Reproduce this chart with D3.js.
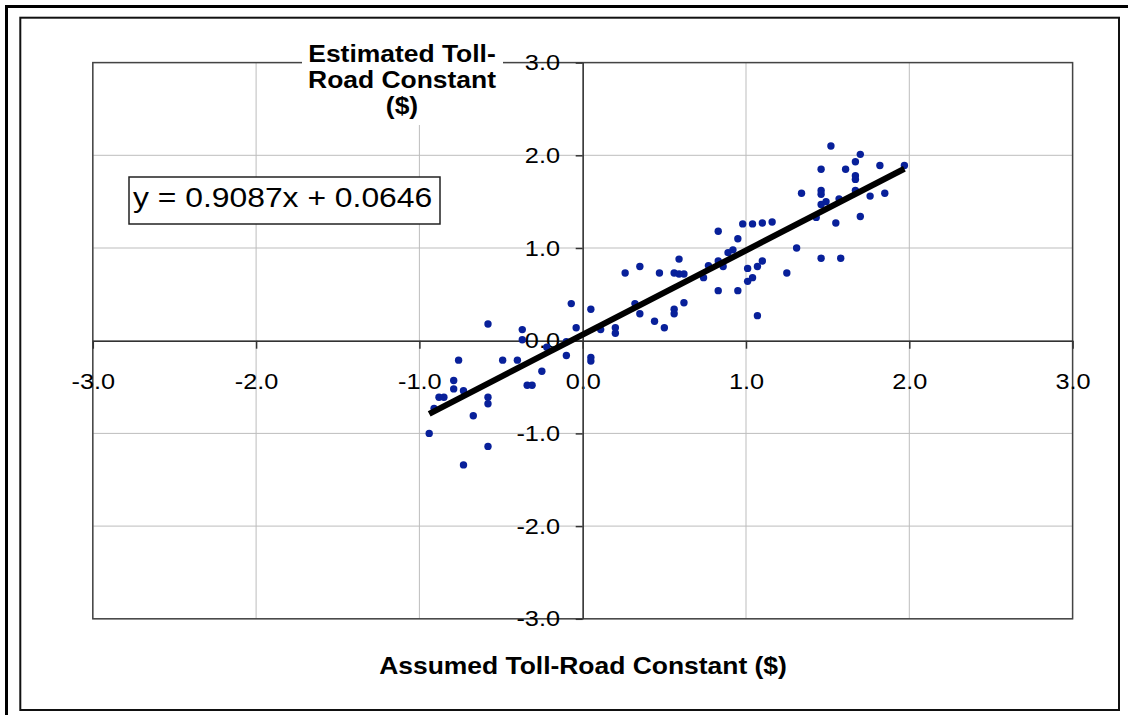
<!DOCTYPE html>
<html>
<head>
<meta charset="utf-8">
<script src="https://cdn.jsdelivr.net/npm/d3@7"></script>
<style>
body { margin: 0; background: #fff; }
svg text { font-family: "Liberation Sans", Arial, sans-serif; fill: #000; }
</style>
</head>
<body>
<svg id="chart" width="1128" height="715"></svg>
<script>
'use strict';

// assumed (x) and estimated (y) toll-road constants
var assumed = [-0.94, -0.91, -0.88, -0.85, -0.79, -0.79, -0.76, -0.73, -0.73, -0.67,
    -0.58, -0.58, -0.58, -0.58, -0.49, -0.40, -0.37, -0.37, -0.34, -0.31,
    -0.25, -0.22, -0.10, -0.10, -0.07, -0.04, 0.05, 0.05, 0.05, 0.11,
    0.20, 0.20, 0.26, 0.32, 0.35, 0.35, 0.44, 0.47, 0.50, 0.56,
    0.56, 0.56, 0.59, 0.59, 0.62, 0.62, 0.74, 0.77, 0.83, 0.83,
    0.83, 0.86, 0.89, 0.92, 0.95, 0.95, 0.98, 1.01, 1.01, 1.04,
    1.04, 1.07, 1.07, 1.10, 1.10, 1.16, 1.25, 1.31, 1.34, 1.43,
    1.46, 1.46, 1.46, 1.46, 1.46, 1.49, 1.52, 1.55, 1.57, 1.58,
    1.61, 1.67, 1.67, 1.67, 1.67, 1.70, 1.70, 1.76, 1.82, 1.85, 1.97];

var estimated = [-1.00, -0.73, -0.61, -0.61, -0.43, -0.52, -0.21, -0.54, -1.34, -0.81,
    0.18, -0.61, -0.68, -1.14, -0.21, -0.21, 0.12, 0.01, -0.48, -0.48,
    -0.33, -0.07, -0.01, -0.16, 0.40, 0.14, 0.34, -0.18, -0.22, 0.12,
    0.14, 0.08, 0.73, 0.40, 0.80, 0.29, 0.21, 0.73, 0.14, 0.73,
    0.34, 0.29, 0.88, 0.72, 0.72, 0.41, 0.68, 0.81, 1.18, 0.86,
    0.54, 0.80, 0.95, 0.98, 1.10, 0.54, 1.26, 0.78, 0.64, 1.26,
    0.68, 0.80, 0.27, 0.86, 1.27, 1.28, 0.73, 1.00, 1.59, 1.33,
    1.85, 1.62, 1.58, 1.47, 0.89, 1.50, 2.10, 1.27, 1.53, 0.89,
    1.85, 1.93, 1.78, 1.74, 1.62, 2.01, 1.34, 1.56, 1.89, 1.59, 1.89];

var trendSlope = 0.9087;
var trendIntercept = 0.0646;
var tickValues = [-3, -2, -1, 0, 1, 2, 3];
var equationLabel = "y = 0.9087x + 0.0646";
var xTitle = "Assumed Toll-Road Constant ($)";
var yTitleLines = ["Estimated Toll-", "Road Constant", "($)"];

var stretch = 1.15; // text in the picture is a bit wide

var svg = d3.select("#chart");

var x = d3.scaleLinear().domain([-3, 3]).range([92.8, 1072.6]);
var y = d3.scaleLinear().domain([-3, 3]).range([618.8, 62.6]);

// frames
svg.append("rect")
    .attr("x", 6.5).attr("y", 6.5).attr("width", 1140).attr("height", 730)
    .attr("fill", "none").attr("stroke", "#000").attr("stroke-width", 3);
svg.append("rect")
    .attr("x", 20.3).attr("y", 17.7).attr("width", 1098.7).attr("height", 692.3)
    .attr("fill", "none").attr("stroke", "#111").attr("stroke-width", 2);

// GRID

var grid = svg.append("g");
grid.selectAll("line.v").data(tickValues).enter().append("line")
    .attr("x1", function(d) { return x(d); }).attr("x2", function(d) { return x(d); })
    .attr("y1", y(-3)).attr("y2", y(3))
    .attr("stroke", "#bdbdbd").attr("stroke-width", 1);
grid.selectAll("line.h").data(tickValues).enter().append("line")
    .attr("y1", function(d) { return y(d); }).attr("y2", function(d) { return y(d); })
    .attr("x1", x(-3)).attr("x2", x(3))
    .attr("stroke", "#bdbdbd").attr("stroke-width", 1);

svg.append("rect")
    .attr("x", x(-3)).attr("y", y(3))
    .attr("width", x(3) - x(-3)).attr("height", y(-3) - y(3))
    .attr("fill", "none").attr("stroke", "#444").attr("stroke-width", 1.5);

// AXES

var fmt = function(d) { return d.toFixed(1); };

var xAxis = svg.append("g")
    .attr("transform", "translate(0," + y(0) + ")")
    .call(d3.axisBottom(x).tickValues(tickValues).tickFormat(fmt)
        .tickSize(8).tickSizeOuter(0).tickPadding(25));
xAxis.selectAll("text")
    .attr("font-size", 22)
    .attr("transform", "scale(" + stretch + ",1)");

var yAxis = svg.append("g")
    .attr("transform", "translate(" + x(0) + ",0)")
    .call(d3.axisLeft(y).tickValues(tickValues).tickFormat(fmt)
        .tickSize(7).tickSizeOuter(0));
yAxis.selectAll("text")
    .attr("font-size", 22)
    .attr("x", -22.7 / stretch)
    .attr("transform", "scale(" + stretch + ",1)");

svg.selectAll(".domain, .tick line").attr("stroke", "#333").attr("stroke-width", 1.5);

// POINTS

var pts = d3.zip(assumed, estimated);
svg.append("g").selectAll("circle")
    .data(pts).enter().append("circle")
    .attr("cx", function(d) { return x(d[0]); })
    .attr("cy", function(d) { return y(d[1]); })
    .attr("r", 3.7)
    .attr("fill", "#08209a");

// TREND LINE

var ext = d3.extent(assumed);
var trend = d3.line()
    .x(function(d) { return x(d); })
    .y(function(d) { return y(trendSlope * d + trendIntercept); });
svg.append("path")
    .datum(ext)
    .attr("d", trend)
    .attr("fill", "none").attr("stroke", "#000").attr("stroke-width", 6);

// LABELS

svg.append("rect")
    .attr("x", 129).attr("y", 177).attr("width", 311).attr("height", 47)
    .attr("fill", "#fff").attr("stroke", "#222").attr("stroke-width", 1.5);
svg.append("text")
    .attr("transform", "translate(133,207) scale(1.18,1)")
    .attr("font-size", 27)
    .text(equationLabel);

svg.append("rect")
    .attr("x", 302).attr("y", 40).attr("width", 201).attr("height", 85)
    .attr("fill", "#fff");
svg.append("g").selectAll("text")
    .data(yTitleLines).enter().append("text")
    .attr("transform", function(d, i) { return "translate(402," + (62 + i * 26) + ") scale(" + stretch + ",1)"; })
    .attr("text-anchor", "middle")
    .attr("font-size", 23).attr("font-weight", "bold")
    .text(function(d) { return d; });

svg.append("text")
    .attr("transform", "translate(583,674) scale(" + stretch + ",1)")
    .attr("text-anchor", "middle")
    .attr("font-size", 23).attr("font-weight", "bold")
    .text(xTitle);
</script>
</body>
</html>
